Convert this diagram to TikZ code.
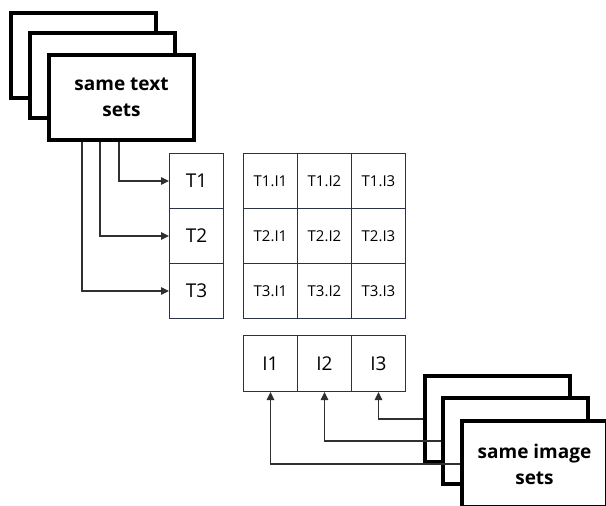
\documentclass[tikz,border=0pt]{standalone}
\usepackage{fontspec}
\setmainfont{Open Sans}
\usetikzlibrary{arrows.meta}
\definecolor{gridc}{HTML}{2B3245}
\definecolor{linec}{HTML}{303030}
\begin{document}
\begin{tikzpicture}[x=1pt,y=-1pt,
  stack/.style={draw=black, line width=4pt, fill=white, minimum width=145pt,
    minimum height=85pt, anchor=north west, inner sep=0pt, align=center,
    font=\bfseries\fontsize{19}{26}\selectfont},
  cell/.style={draw=gridc, line width=1pt, fill=white, minimum width=54pt,
    minimum height=55pt, anchor=north west, inner sep=0pt},
  tlab/.style={cell, font=\fontsize{19}{22}\selectfont},
  glab/.style={cell, font=\fontsize{15}{18}\selectfont},
  feed/.style={draw=linec, line width=1.1pt, -{Triangle[length=8pt,width=7.5pt]}}
]
\useasboundingbox (0,0) rectangle (606,506);

% stack of text sets
\node[stack] (tb1) at (9,11) {};
\node[stack] (tb2) at (28,31) {};
\node[stack] (tb3) at (47,53) {same text\\sets};

% text column
\node[tlab] (t1) at (169,153) {T1};
\node[tlab] (t2) at (169,208) {T2};
\node[tlab] (t3) at (169,263) {T3};

% pair grid
\foreach \r/\y in {1/153,2/208,3/263}{
  \foreach \c/\x in {1/243,2/297,3/351}{
    \node[glab] (g\r\c) at (\x,\y) {T\r.I\c};
  }
}

% image row
\node[tlab, minimum height=56pt] (i1) at (243,335) {I1};
\node[tlab, minimum height=56pt] (i2) at (297,335) {I2};
\node[tlab, minimum height=56pt] (i3) at (351,335) {I3};

% stack of image sets
\node[stack, minimum height=86pt] (ib1) at (423,374) {};
\node[stack, minimum height=86pt] (ib2) at (441,396) {};
\node[stack, minimum height=86pt] (ib3) at (460,419) {same image\\sets};

% connectors from the text sets
\draw[feed] ([xshift=72pt]tb3.south west) |- (t1);
\draw[feed] ([xshift=53pt]tb3.south west) |- (t2);
\draw[feed] ([xshift=35pt]tb3.south west) |- (t3);

% connectors from the image sets
\draw[feed] (ib1.west) -| (i3);
\draw[feed] (ib2.west) -| (i2);
\draw[feed] (ib3.west) -| (i1);
\end{tikzpicture}
\end{document}
